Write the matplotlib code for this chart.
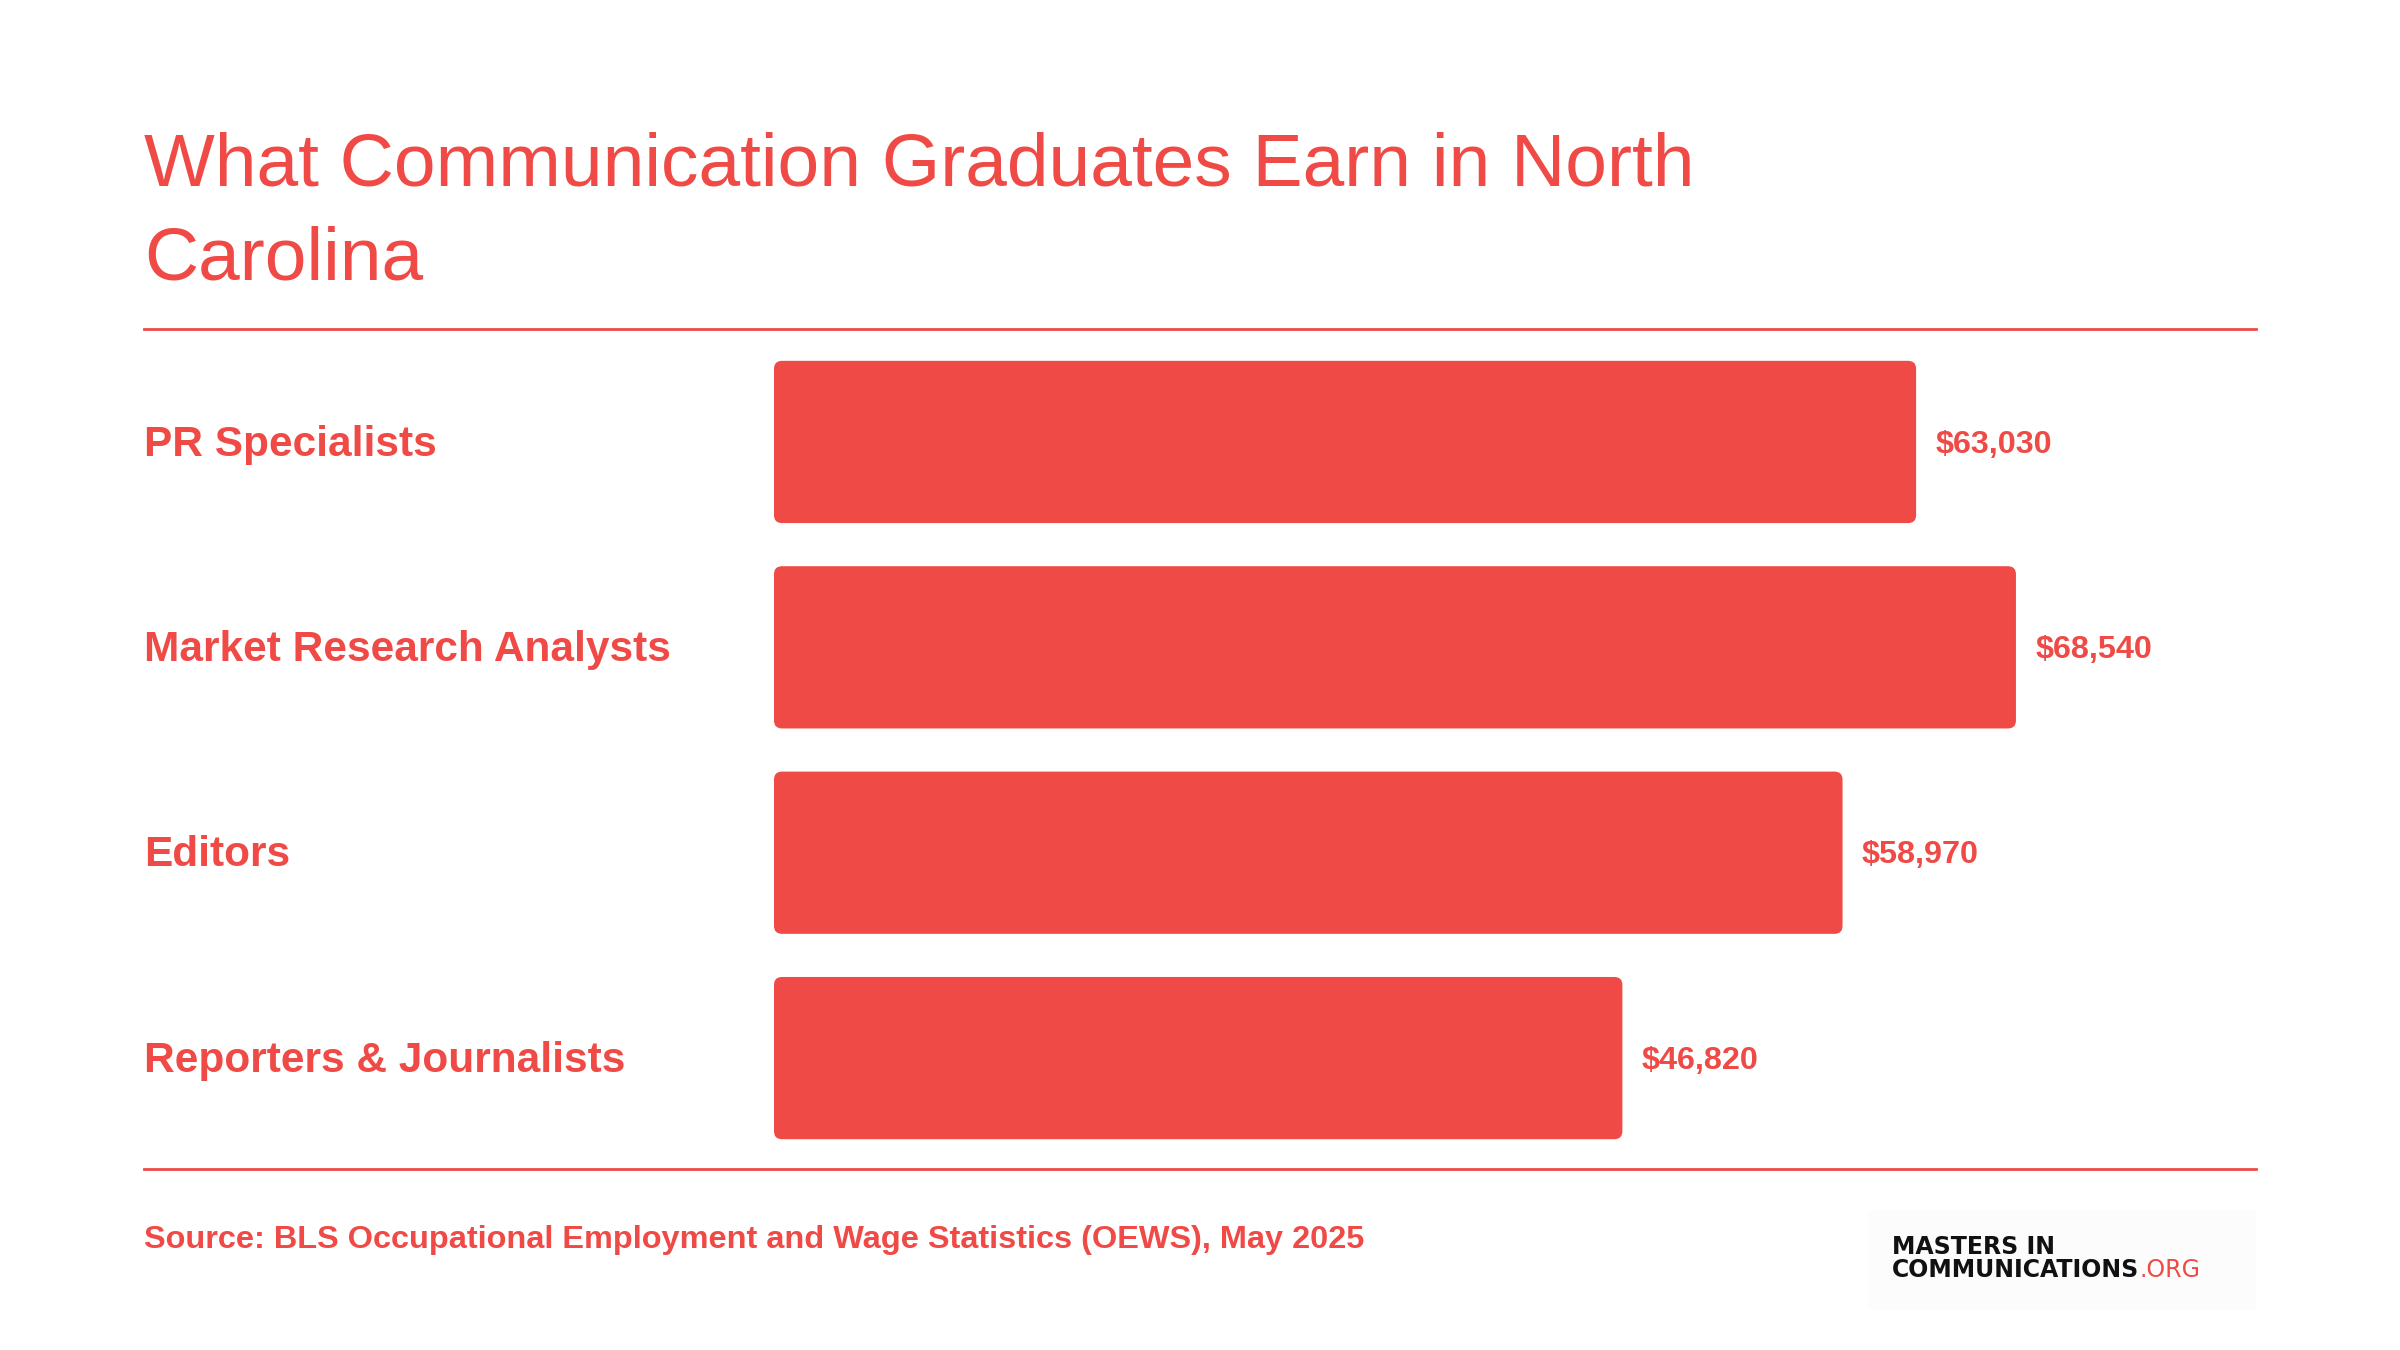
import matplotlib.pyplot as plt
from matplotlib.patches import FancyBboxPatch, Rectangle
from matplotlib.lines import Line2D
import matplotlib.transforms as mtransforms

categories = ['PR Specialists', 'Market Research Analysts', 'Editors', 'Reporters & Journalists']
salaries = [63030, 68540, 58970, 46820]
value_labels = ['$63,030', '$68,540', '$58,970', '$46,820']

RED = '#EF4A46'
plt.rcParams['font.family'] = ['Liberation Sans', 'DejaVu Sans']

W, H = 2400, 1350
fig = plt.figure(figsize=(24, 13.5), dpi=100)
fig.patch.set_facecolor('white')

# axes placed so that $0 sits at x=774px and bars scale ~0.01812 px per dollar
xmax = 82000
ax = fig.add_axes([774 / W, 1 - 1169 / H, xmax * 0.01812 / W, 840 / H])
ax.set_xlim(0, xmax)
ax.set_ylim(3.54, -0.55)
ax.axis('off')

bar_h = 0.79
px_x = xmax / (xmax * 0.01812)     # dollars per pixel
px_y = 4.09 / 840                  # y units per pixel
r = 8 * px_x
for i, v in enumerate(salaries):
    patch = FancyBboxPatch((0, i - bar_h / 2), v, bar_h,
                           boxstyle=f'round,pad=0,rounding_size={r}',
                           mutation_aspect=px_y / px_x,
                           facecolor=RED, edgecolor='none')
    ax.add_patch(patch)
    ax.annotate(value_labels[i], (v, i), xytext=(14, -2), textcoords='offset points',
                va='center', ha='left', color=RED, fontsize=23.3, fontweight='bold')

trans = mtransforms.blended_transform_factory(fig.transFigure, ax.transData)
for i, c in enumerate(categories):
    ax.annotate(c, (144 / W, i), xycoords=trans, xytext=(0, -2),
                textcoords='offset points', va='center', ha='left',
                color=RED, fontsize=30.5, fontweight='bold')

# title
fig.text(144 / W, 1 - 185 / H, 'What Communication Graduates Earn in North',
         color=RED, fontsize=54, va='baseline', ha='left')
fig.text(144 / W, 1 - 280 / H, 'Carolina',
         color=RED, fontsize=54, va='baseline', ha='left')

# rules
for y in (329, 1169):
    fig.add_artist(Line2D([144 / W, 2256 / W], [1 - y / H, 1 - y / H],
                          color=RED, lw=2, transform=fig.transFigure))

# source
fig.text(144 / W, 1 - 1240 / H,
         'Source: BLS Occupational Employment and Wage Statistics (OEWS), May 2025',
         color=RED, fontsize=23.4, fontweight='bold', va='center', ha='left')

# logo
fig.add_artist(Rectangle((1868 / W, 1 - 1310 / H), 388 / W, 100 / H,
                         transform=fig.transFigure, facecolor='#fcfcfc',
                         edgecolor='none'))
fig.text(1892 / W, 1 - 1247 / H, 'MASTERS IN', family='DejaVu Sans',
         fontsize=17, fontweight='heavy', color='#111111', va='center', ha='left')
t = fig.text(1892 / W, 1 - 1270 / H, 'COMMUNICATIONS', family='DejaVu Sans',
             fontsize=17, fontweight='heavy', color='#111111', va='center', ha='left')
fig.canvas.draw()
bb = t.get_window_extent()
fig.text(bb.x1 / W, 1 - 1270 / H, '.ORG', family='DejaVu Sans',
         fontsize=17, color=RED, va='center', ha='left')

fig.savefig('out.png', dpi=100, facecolor='white')
